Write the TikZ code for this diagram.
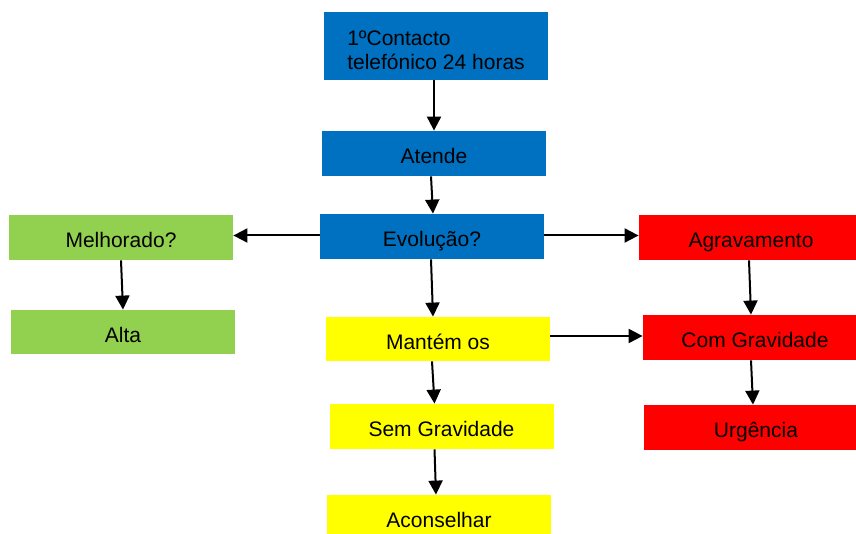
\documentclass[tikz,border=0pt]{standalone}
\usepackage{fontspec}
\setmainfont{Liberation Sans}
\usetikzlibrary{arrows.meta, positioning}

\definecolor{boxblue}{HTML}{0070C0}
\definecolor{boxgreen}{HTML}{92D050}
\definecolor{boxred}{HTML}{FF0000}
\definecolor{boxyellow}{HTML}{FFFF00}

\tikzset{
  stepbox/.style={rectangle, minimum width=112pt, minimum height=22.5pt,
    inner sep=0pt, text height=10pt, text depth=0pt,
    font=\fontsize{10.5}{12}\selectfont},
  bluebox/.style={stepbox, fill=boxblue},
  greenbox/.style={stepbox, fill=boxgreen},
  redbox/.style={stepbox, fill=boxred},
  yellowbox/.style={stepbox, fill=boxyellow},
  arr/.style={line width=1pt, -{Triangle[length=7pt, width=7pt]}},
}

\begin{document}
\begin{tikzpicture}[x=0.5pt, y=-0.5pt]
  \useasboundingbox (0,0) rectangle (856,534);
  % Centre column
  \node[bluebox, minimum height=34pt, text height=, text depth=, align=left]
        (contacto) at (436,46) {\rule{0pt}{12pt}1ºContacto\\telefónico 24 horas};
  \node[bluebox] (atende) at (434,153.5) {Atende};
  \node[bluebox] (evolucao) at (432,236.5) {Evolução?};
  \node[yellowbox, minimum height=22pt] (mantem) at (438,339) {Mantém os};
  \node[yellowbox] (semgrav) at (441.5,426.5) {Sem Gravidade};
  \node[yellowbox] (aconselhar) at (439,517.5) {Aconselhar};
  % Left column
  \node[greenbox] (melhorado) at (121,237.5) {Melhorado?};
  \node[greenbox, minimum height=22pt] (alta) at (123,332) {Alta};
  % Right column
  \node[redbox] (agravamento) at (751,237.5) {Agravamento};
  \node[redbox] (comgrav) at (755,337.5) {Com Gravidade};
  \node[redbox] (urgencia) at (756,427.5) {Urgência};
  % Arrows down the centre
  \draw[arr] ([xshift=-1pt]contacto.south) -- ([xshift=0pt]atende.north);
  \draw[arr] ([xshift=-1.5pt]atende.south) -- ([xshift=0.5pt]evolucao.north);
  \draw[arr] ([xshift=-0.5pt]evolucao.south) -- ([xshift=-2.5pt]mantem.north);
  \draw[arr] ([xshift=-3pt]mantem.south) -- ([xshift=-3.5pt]semgrav.north);
  \draw[arr] ([xshift=-3.5pt]semgrav.south) -- ([xshift=-1.5pt]aconselhar.north);
  % Side branches
  \draw[arr] ([yshift=0.5pt]evolucao.west) -- ([yshift=0.5pt]evolucao.west -| melhorado.east);
  \draw[arr] ([yshift=0.5pt]evolucao.east) -- ([yshift=0.5pt]evolucao.east -| agravamento.west);
  \draw[arr] ([yshift=1.5pt]mantem.east) -- ([yshift=1.5pt]mantem.east -| comgrav.west);
  \draw[arr] (melhorado.south) -- (alta.north);
  \draw[arr] ([xshift=-1pt]agravamento.south) -- ([xshift=-2pt]comgrav.north);
  \draw[arr] ([xshift=-2pt]comgrav.south) -- ([xshift=-1.5pt]urgencia.north);
\end{tikzpicture}
\end{document}
